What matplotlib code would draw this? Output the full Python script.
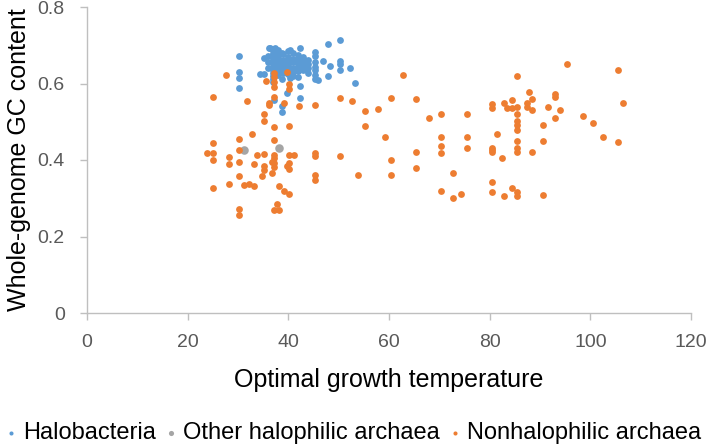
import matplotlib
matplotlib.use("Agg")
import matplotlib.pyplot as plt

plt.rcParams['font.family'] = ['Liberation Sans', 'DejaVu Sans']

# Halobacteria
halo_x = [30.2, 30.2, 30.2, 30.2, 34.3, 35.2, 35.2, 36.2, 36.4, 37.4, 38.7, 40.4, 42.3,
          50.3, 47.8, 45.3, 45.3, 45.3, 45.3, 45.3, 45.3, 45.3, 46.8, 48.3, 50.3, 50.3, 50.3,
          52.3, 47.8, 53.3, 45.8, 42.3, 42.3, 39.7, 38.8, 38.8, 37.2, 38.7, 38.7, 40.4, 44.0,
          37, 37, 37, 37, 37, 37, 37, 37, 37, 37, 37, 37,
          38, 38, 38, 38, 38, 38, 38, 38, 38,
          39, 39, 39, 39, 39,
          40, 40, 40, 40, 40, 40, 40,
          41, 41, 41, 41, 41, 41,
          42, 42, 42, 42, 42, 42,
          43, 43, 43, 43,
          44, 44, 44,
          36, 36, 36]
halo_y = [0.672, 0.630, 0.615, 0.589, 0.626, 0.626, 0.667, 0.692, 0.694, 0.694, 0.681, 0.687, 0.692,
          0.713, 0.702, 0.682, 0.671, 0.655, 0.644, 0.634, 0.622, 0.611, 0.660, 0.647, 0.660, 0.651, 0.634,
          0.641, 0.620, 0.602, 0.609, 0.593, 0.563, 0.574, 0.541, 0.525, 0.558, 0.613, 0.637, 0.615, 0.640,
          0.690, 0.680, 0.672, 0.665, 0.658, 0.650, 0.643, 0.636, 0.628, 0.620, 0.612, 0.604,
          0.688, 0.676, 0.668, 0.660, 0.652, 0.645, 0.638, 0.630, 0.622,
          0.676, 0.662, 0.650, 0.640, 0.628,
          0.684, 0.670, 0.660, 0.652, 0.645, 0.635, 0.625,
          0.680, 0.665, 0.655, 0.640, 0.630, 0.620,
          0.675, 0.662, 0.650, 0.642, 0.632, 0.618,
          0.668, 0.655, 0.645, 0.635,
          0.662, 0.650, 0.628,
          0.672, 0.655, 0.640]

# Other halophilic archaea
other_x = [31.1, 38.1]
other_y = [0.425, 0.431]

# Nonhalophilic archaea
non_x = [23.8, 25.1, 25.1, 25.1, 25.1, 25.1,
         27.6, 28.2, 28.2, 28.2,
         30.2, 30.2, 30.2, 30.2, 30.2, 30.2,
         31.2, 32.2, 33.2, 31.7, 32.7, 33.2, 33.7,
         35.2, 35.2, 35.2, 34.7, 35.2, 35.2, 35.6,
         36.2, 36.2, 36.7, 36.7,
         37.2, 37.2, 37.2, 37.2, 37.2, 37.2, 37.2, 37.2, 37.2, 37.2, 37.2, 37.2,
         37.7, 38.2, 38.2,
         39.2, 39.2, 39.7, 39.7, 40.2, 40.2, 40.2, 40.2, 40.2, 40.2, 40.2, 41.2,
         42.2, 45.3, 45.3, 45.3, 45.3, 45.3,
         50.3, 50.3, 52.7, 53.9, 55.3, 55.3, 57.8, 59.3,
         60.3, 60.4, 60.4, 62.8, 65.3, 65.3, 65.3,
         67.9, 70.4, 70.4, 70.4, 70.4, 70.4, 72.8, 72.8, 74.4, 75.4, 75.4, 75.4,
         95.4, 105.4, 85.5, 87.9, 93.0, 93.0, 88.5, 106.5, 80.4, 80.4, 82.9, 84.4,
         83.4, 84.4, 85.5, 87.4, 87.5, 88.5, 91.5, 93.9, 93.0, 98.5, 100.5, 102.5, 105.5,
         85.5, 85.5, 85.5, 85.5, 90.5, 81.4, 90.5, 85.5, 80.4, 80.4, 80.4, 85.5, 85.5, 88.5,
         82.4, 80.4, 80.4, 84.4, 82.9, 85.5, 85.5, 90.5]
non_y = [0.419, 0.419, 0.444, 0.400, 0.326, 0.566,
         0.622, 0.409, 0.390, 0.338,
         0.454, 0.425, 0.394, 0.358, 0.271, 0.256,
         0.334, 0.338, 0.331, 0.553, 0.467, 0.390, 0.414,
         0.416, 0.384, 0.374, 0.358, 0.520, 0.503, 0.607,
         0.548, 0.543, 0.365, 0.394,
         0.627, 0.616, 0.605, 0.592, 0.566, 0.485, 0.452, 0.413, 0.404, 0.391, 0.381, 0.268,
         0.286, 0.268, 0.333,
         0.550, 0.320, 0.630, 0.384, 0.598, 0.586, 0.489, 0.414, 0.391, 0.376, 0.310, 0.413,
         0.541, 0.545, 0.418, 0.411, 0.361, 0.348,
         0.563, 0.410, 0.553, 0.360, 0.528, 0.490, 0.533, 0.460,
         0.561, 0.401, 0.360, 0.622, 0.560, 0.420, 0.380,
         0.511, 0.520, 0.460, 0.437, 0.418, 0.319, 0.367, 0.300, 0.311, 0.520, 0.460, 0.432,
         0.651, 0.635, 0.620, 0.577, 0.572, 0.564, 0.559, 0.550, 0.546, 0.536, 0.548, 0.556,
         0.536, 0.536, 0.538, 0.548, 0.539, 0.532, 0.539, 0.530, 0.510, 0.516, 0.497, 0.460, 0.446,
         0.520, 0.501, 0.491, 0.479, 0.491, 0.468, 0.450, 0.450, 0.431, 0.425, 0.420, 0.431, 0.420, 0.420,
         0.404, 0.342, 0.316, 0.327, 0.306, 0.317, 0.307, 0.309]

x_ticks = [0, 20, 40, 60, 80, 100, 120]
y_ticks = [0, 0.2, 0.4, 0.6, 0.8]
y_tick_labels = ['0', '0.2', '0.4', '0.6', '0.8']

BLUE = '#5B9BD5'
GRAY = '#A5A5A5'
ORANGE = '#ED7D31'

fig = plt.figure(figsize=(7.08, 4.46), dpi=100)
ax = fig.add_axes([87/708, 1-313/446, (691-87)/708, (313-7)/446])

ax.scatter(halo_x, halo_y, s=24, color=BLUE, linewidths=0, label='Halobacteria', zorder=3)
ax.scatter(other_x, other_y, s=38, color=GRAY, linewidths=0, label='Other halophilic archaea', zorder=3)
ax.scatter(non_x, non_y, s=24, color=ORANGE, linewidths=0, label='Nonhalophilic archaea', zorder=4)

ax.set_xlim(0, 120)
ax.set_ylim(0, 0.8)
ax.set_xticks(x_ticks)
ax.set_yticks(y_ticks)
ax.set_yticklabels(y_tick_labels)
for s in ['top', 'right']:
    ax.spines[s].set_visible(False)
for s in ['left', 'bottom']:
    ax.spines[s].set_color('#BFBFBF')
    ax.spines[s].set_linewidth(1.0)
ax.tick_params(axis='both', colors='#BFBFBF', labelcolor='#595959', labelsize=14,
               length=5, width=1.0, direction='out')
ax.tick_params(axis='x', pad=10)
ax.tick_params(axis='y', pad=11)
ax.set_xlabel('Optimal growth temperature', fontsize=18, color='black', labelpad=12)
ax.set_ylabel('Whole-genome GC content', fontsize=18, color='black', labelpad=5)

fig.legend(loc='lower center', bbox_to_anchor=(0.5, 0.0), ncol=3, frameon=False,
           fontsize=17, markerscale=0.6, handletextpad=0.31, columnspacing=0.44,
           borderaxespad=0.0, borderpad=0.08, handlelength=0.4)

fig.savefig('out.png', dpi=100)
